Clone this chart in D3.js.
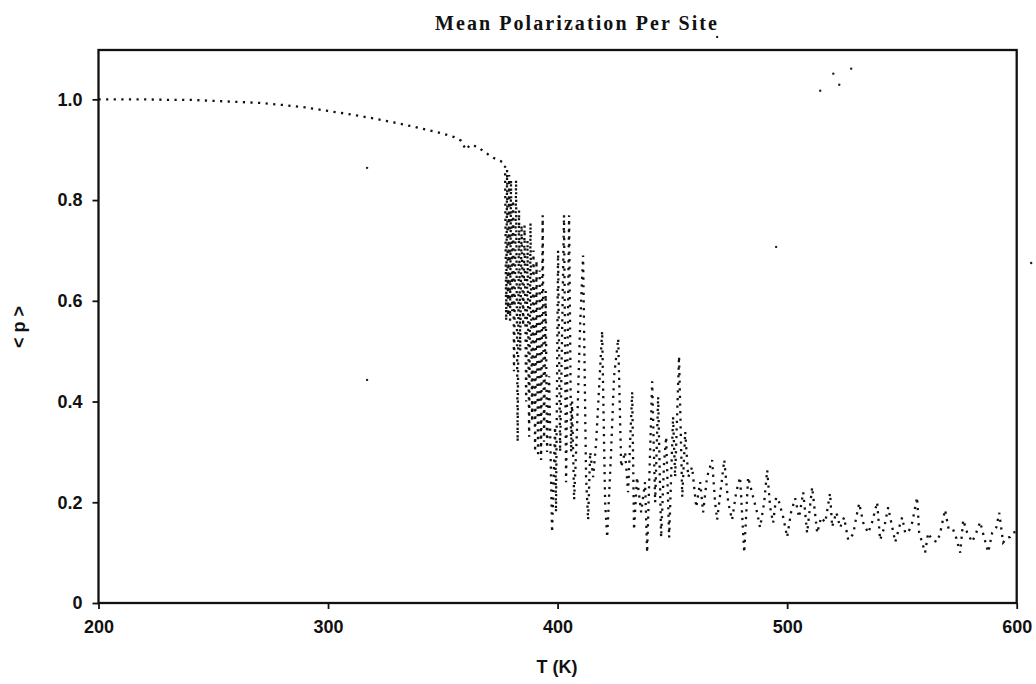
<!DOCTYPE html>
<html>
<head>
    <script src="https://d3js.org/d3.v7.min.js"></script>
    <style>
        body {
            margin: 0;
            background: #ffffff;
        }
        .tick text {
            font-family: 'Liberation Sans', Arial, sans-serif;
            font-size: 18px;
            font-weight: bold;
            fill: #111;
        }
        .axis-label {
            font-family: 'Liberation Sans', Arial, sans-serif;
            font-size: 18px;
            font-weight: bold;
            fill: #111;
        }
        .title {
            font-family: 'Liberation Serif', 'Times New Roman', serif;
            font-weight: bold;
            font-size: 20px;
            fill: #111;
        }
    </style>
</head>
<body>
<div id="chart"></div>
<script>
// Smooth ordered branch (T in K, mean polarization)
const tempSmooth = [200, 210, 220, 230, 240, 250, 260, 270, 280, 290, 300, 310, 320, 330, 340, 350,
    355, 358, 360, 362, 365, 368, 372, 375, 377.1];
const polSmooth = [1.000, 1.000, 1.000, 0.999, 0.999, 0.997, 0.995, 0.993, 0.989, 0.984, 0.977, 0.970,
    0.962, 0.953, 0.943, 0.932, 0.925, 0.918, 0.900, 0.910, 0.906, 0.896, 0.884, 0.878, 0.872];

// Transition region, strong oscillations
const tempTransition = [377.6, 378.0, 378.4, 378.9, 379.3, 379.7, 380.2, 380.6, 381.0, 381.9, 382.6, 383.2,
    383.7, 384.3, 385.0, 385.6, 386.3, 386.9, 387.6, 388.2, 388.9, 389.5, 390.2, 390.8, 391.5, 392.2,
    392.8, 393.5, 394.1, 394.8, 395.4, 396.3, 397.6, 398.9, 399.3, 400.2, 401.1, 402.8, 403.7, 405.0,
    405.9, 406.3, 407.2, 408.5, 409.8, 411.1, 412.4, 413.3, 414.2, 415.5, 416.8, 419.4, 420.7, 421.6,
    423.3, 424.6, 426.4, 427.7, 429.4, 430.7, 432.5, 433.3, 434.6, 436.4, 438.1, 439.0, 441.2, 442.5,
    443.8, 445.1, 446.4, 447.3, 448.6, 450.3, 451.2, 452.9, 454.3, 455.6, 456.9, 458.6, 460.4, 462.1,
    463.4, 465.1, 467.3, 468.6, 469.5];
const polTransition = [0.56, 0.86, 0.57, 0.85, 0.56, 0.84, 0.58, 0.80, 0.46, 0.84, 0.32, 0.78,
    0.50, 0.75, 0.55, 0.75, 0.40, 0.72, 0.33, 0.755, 0.36, 0.70, 0.30, 0.68, 0.29, 0.66,
    0.284, 0.77, 0.32, 0.62, 0.30, 0.45, 0.14, 0.35, 0.18, 0.70, 0.30, 0.77, 0.24, 0.77,
    0.30, 0.40, 0.205, 0.35, 0.55, 0.69, 0.25, 0.165, 0.30, 0.25, 0.32, 0.54, 0.20, 0.13,
    0.30, 0.45, 0.525, 0.27, 0.30, 0.22, 0.42, 0.145, 0.25, 0.18, 0.24, 0.10, 0.44, 0.20,
    0.41, 0.13, 0.28, 0.33, 0.13, 0.37, 0.25, 0.49, 0.21, 0.34, 0.25, 0.27, 0.19, 0.24,
    0.18, 0.25, 0.284, 0.20, 0.165];

// High temperature tail
const tempTail = [471.2, 472.6, 474.3, 476.0, 477.8, 479.5, 481.3, 483.0, 485.2, 486.9, 488.2, 490.0,
    491.3, 492.6, 493.9, 495.2, 496.5, 498.3, 500.0, 501.7, 503.5, 505.2, 507.0, 508.7, 510.9, 513.1,
    514.8, 516.6, 518.7, 519.6, 521.4, 523.1, 524.8, 526.6, 528.8, 530.1, 531.4, 533.1, 535.3, 537.0,
    539.2, 540.5, 542.3, 544.0, 545.8, 547.1, 548.8, 550.1, 551.4, 552.7, 554.5, 556.6, 557.5, 558.8,
    560.1, 561.4, 563.2, 565.4, 566.7, 568.8, 570.2, 571.9, 573.6, 575.4, 576.7, 578.4, 580.6, 582.4,
    584.1, 585.8, 587.6, 589.3, 591.1, 592.4, 594.1, 595.9, 597.2, 598.5, 599.8];
const polTail = [0.23, 0.284, 0.20, 0.165, 0.22, 0.25, 0.10, 0.25, 0.21, 0.18, 0.15, 0.20,
    0.264, 0.19, 0.159, 0.21, 0.20, 0.17, 0.131, 0.18, 0.208, 0.17, 0.22, 0.139, 0.23, 0.139,
    0.17, 0.16, 0.218, 0.151, 0.18, 0.15, 0.17, 0.125, 0.137, 0.17, 0.198, 0.16, 0.139, 0.16,
    0.20, 0.125, 0.15, 0.19, 0.15, 0.121, 0.15, 0.17, 0.14, 0.139, 0.16, 0.21, 0.14, 0.12,
    0.10, 0.139, 0.125, 0.121, 0.14, 0.185, 0.15, 0.151, 0.13, 0.10, 0.165, 0.14, 0.121, 0.14,
    0.161, 0.13, 0.101, 0.139, 0.15, 0.179, 0.12, 0.13, 0.131, 0.14, 0.141];

// Stray specks on the scanned page
const speckT = [317.0, 317.0, 514.4, 520.1, 522.7, 527.9, 495.2, 606.3, 469.5];
const speckP = [0.864, 0.443, 1.017, 1.051, 1.029, 1.061, 0.707, 0.675, 1.124];

const xTicks = [200, 300, 400, 500, 600];
const yTicks = [0, 0.2, 0.4, 0.6, 0.8, 1.0];

const renderChart = () => {
    const width = 1036;
    const height = 684;
    const margin = { top: 50, right: 19.3, bottom: 81, left: 98.5 };
    const chartWidth = width - margin.left - margin.right;
    const chartHeight = height - margin.top - margin.bottom;

    const svg = d3.select("#chart")
        .append("svg")
        .attr("width", width)
        .attr("height", height);

    const g = svg.append("g")
        .attr("transform", `translate(${margin.left},${margin.top})`);

    const xScale = d3.scaleLinear().domain([200, 600]).range([0, chartWidth]);
    const yScale = d3.scaleLinear().domain([0, 1.098]).range([chartHeight, 0]);

    const data = []
        .concat(tempSmooth.map((t, i) => ({ t, p: polSmooth[i] })))
        .concat(tempTransition.map((t, i) => ({ t, p: polTransition[i] })))
        .concat(tempTail.map((t, i) => ({ t, p: polTail[i] })));

    // Axes
    const xAxis = d3.axisBottom(xScale)
        .tickValues(xTicks)
        .tickFormat(d3.format("d"))
        .tickSize(6)
        .tickSizeOuter(0)
        .tickPadding(11);

    const yAxis = d3.axisLeft(yScale)
        .tickValues(yTicks)
        .tickFormat(d => d === 0 ? "0" : d3.format(".1f")(d))
        .tickSize(6)
        .tickSizeOuter(0)
        .tickPadding(10);

    const gx = g.append("g")
        .attr("transform", `translate(0,${chartHeight})`)
        .call(xAxis);
    const gy = g.append("g").call(yAxis);

    [gx, gy].forEach(a => {
        a.select(".domain").remove();
        a.selectAll(".tick line").attr("stroke", "#111").attr("stroke-width", 1.8);
    });

    // Frame
    g.append("rect")
        .attr("width", chartWidth)
        .attr("height", chartHeight)
        .attr("fill", "none")
        .attr("stroke", "#111")
        .attr("stroke-width", 2.3);

    // Dotted polarization curve
    const line = d3.line()
        .x(d => xScale(d.t))
        .y(d => yScale(d.p));

    g.append("path")
        .datum(data)
        .attr("d", line)
        .attr("fill", "none")
        .attr("stroke", "#111")
        .attr("stroke-width", 2.3)
        .attr("stroke-dasharray", "2.2,5.4");

    // Specks
    g.append("g")
        .selectAll("circle")
        .data(speckT.map((t, i) => ({ t, p: speckP[i] })))
        .join("circle")
        .attr("cx", d => xScale(d.t))
        .attr("cy", d => yScale(d.p))
        .attr("r", 1.2)
        .attr("fill", "#222");

    // Labels
    svg.append("text")
        .attr("class", "title")
        .attr("x", 435)
        .attr("y", 30)
        .attr("textLength", 282)
        .attr("lengthAdjust", "spacing")
        .text("Mean Polarization Per Site");

    svg.append("text")
        .attr("class", "axis-label")
        .attr("x", 557)
        .attr("y", 673)
        .attr("text-anchor", "middle")
        .text("T (K)");

    svg.append("text")
        .attr("class", "axis-label")
        .attr("transform", "translate(25,327) rotate(-90)")
        .attr("text-anchor", "middle")
        .text("< p >");
};

renderChart();
</script>
</body>
</html>
